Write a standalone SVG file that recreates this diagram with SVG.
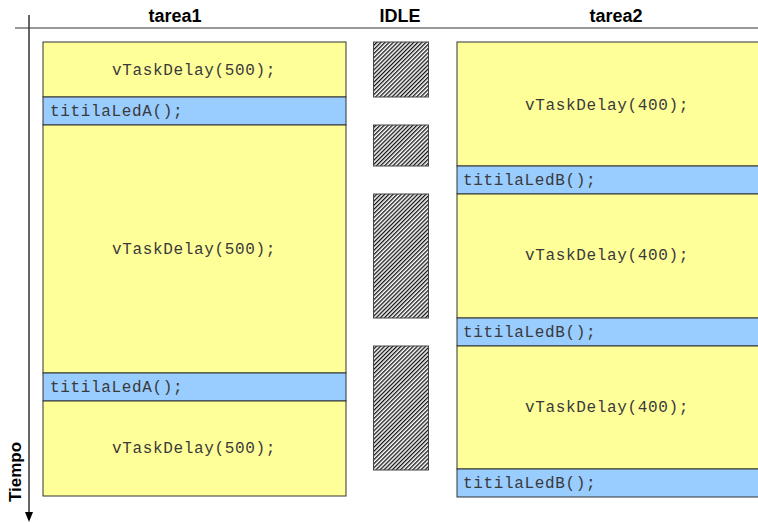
<svg xmlns="http://www.w3.org/2000/svg" width="758" height="523" viewBox="0 0 758 523">
<style>
.y{fill:#FFFF99;stroke:#333;stroke-width:1}
.b{fill:#99CCFF;stroke:#333;stroke-width:1}
.h{fill:url(#hatch);stroke:#444;stroke-width:1}
.c{font-family:"Liberation Mono","Courier New",monospace;font-size:16px;letter-spacing:0.65px;fill:#3a3a3a}
.m{text-anchor:middle}
.t{font-family:"Liberation Sans",Arial,sans-serif;font-weight:bold;font-size:18px;fill:#000;text-anchor:middle}
</style>
<defs>
<pattern id="hatch" patternUnits="userSpaceOnUse" width="2.9" height="2.9" patternTransform="rotate(45)">
<rect width="2.9" height="2.9" fill="#fff"/>
<rect width="1.3" height="2.9" fill="#111"/>
</pattern>
</defs>
<g id="axes">
<line x1="15" y1="28" x2="758" y2="28" stroke="#333" stroke-width="1.2"/>
<line x1="29" y1="15" x2="29" y2="513" stroke="#333" stroke-width="1.5"/>
<path d="M25,512 L33,512 L29,522 Z" fill="#000"/>
<text class="t" transform="translate(21,472) rotate(-90)" style="font-size:17px">Tiempo</text>
</g>
<g id="titles">
<text class="t" x="175" y="22">tarea1</text>
<text class="t" x="400" y="22">IDLE</text>
<text class="t" x="616" y="22">tarea2</text>
</g>
<g id="tarea1">
<rect class="y" x="43" y="42" width="303" height="55"/>
<text class="c m" x="194" y="75">vTaskDelay(500);</text>
<rect class="b" x="43" y="97" width="303" height="28"/>
<text class="c" x="50" y="116">titilaLedA();</text>
<rect class="y" x="43" y="125" width="303" height="248"/>
<text class="c m" x="194" y="254">vTaskDelay(500);</text>
<rect class="b" x="43" y="373" width="303" height="28"/>
<text class="c" x="50" y="392">titilaLedA();</text>
<rect class="y" x="43" y="401" width="303" height="95"/>
<text class="c m" x="194" y="453">vTaskDelay(500);</text>
</g>
<g id="idle">
<rect class="h" x="373.5" y="42" width="55" height="55"/>
<rect class="h" x="373.5" y="125" width="55" height="41"/>
<rect class="h" x="373.5" y="194" width="55" height="124"/>
<rect class="h" x="373.5" y="346" width="55" height="124"/>
</g>
<g id="tarea2">
<rect class="y" x="457" y="42" width="310" height="124"/>
<text class="c m" x="607" y="110">vTaskDelay(400);</text>
<rect class="b" x="457" y="166" width="310" height="28"/>
<text class="c" x="463" y="185">titilaLedB();</text>
<rect class="y" x="457" y="194" width="310" height="124"/>
<text class="c m" x="607" y="260">vTaskDelay(400);</text>
<rect class="b" x="457" y="318" width="310" height="28"/>
<text class="c" x="463" y="337">titilaLedB();</text>
<rect class="y" x="457" y="346" width="310" height="123"/>
<text class="c m" x="607" y="412">vTaskDelay(400);</text>
<rect class="b" x="457" y="469" width="310" height="28"/>
<text class="c" x="463" y="488">titilaLedB();</text>
</g>
<g id="connectors"></g>
</svg>
